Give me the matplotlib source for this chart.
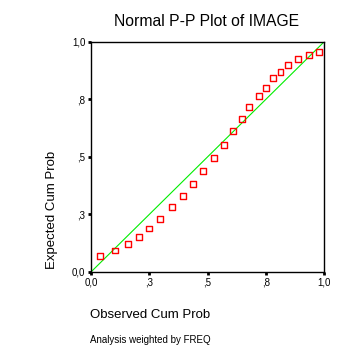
import matplotlib
matplotlib.use("Agg")
import matplotlib.pyplot as plt

plt.rcParams['font.family'] = ['Liberation Sans', 'DejaVu Sans']

# observed vs expected cumulative probabilities
observed = [0.04, 0.104, 0.16, 0.207, 0.247, 0.297, 0.349, 0.396, 0.439, 0.481, 0.529, 0.569,
            0.61, 0.649, 0.679, 0.721, 0.751, 0.781, 0.813, 0.846, 0.889, 0.936, 0.98]
expected = [0.07, 0.093, 0.121, 0.151, 0.189, 0.23, 0.281, 0.33, 0.382, 0.439, 0.496, 0.551,
            0.612, 0.664, 0.717, 0.765, 0.799, 0.843, 0.871, 0.901, 0.926, 0.942, 0.956]
tick_vals = [0, 0.25, 0.5, 0.75, 1.0]
tick_labels = ["0,0", ",3", ",5", ",8", "1,0"]

fig = plt.figure(figsize=(3.57, 3.55), dpi=100)
ax = fig.add_axes([0.255, 0.234, 0.6527, 0.648])

# reference diagonal
ax.plot([0, 1], [0, 1], color='#00ee00', lw=0.8, zorder=1)
ax.scatter(observed, expected, marker='s', s=18, facecolors='none', edgecolors='red',
           linewidths=1.0, zorder=2)

ax.set_xlim(0, 1)
ax.set_ylim(0, 1)
ax.set_xticks(tick_vals)
ax.set_xticklabels(tick_labels)
ax.set_yticks(tick_vals)
ax.set_yticklabels(tick_labels)
ax.tick_params(direction='out', length=2, width=2, labelsize=7, pad=2)
for s in ax.spines.values():
    s.set_linewidth(1.0)

fig.text(0.58, 0.94, "Normal P-P Plot of IMAGE", ha='center', va='center', fontsize=11.3)
fig.text(0.252, 0.113, "Observed Cum Prob", ha='left', va='center', fontsize=9.5)
fig.text(0.252, 0.042, "Analysis weighted by FREQ", ha='left', va='center', fontsize=7)
fig.text(0.146, 0.41, "Expected Cum Prob", ha='center', va='center', rotation=90, fontsize=9.5)

fig.savefig("out.png", dpi=100, facecolor='white')
